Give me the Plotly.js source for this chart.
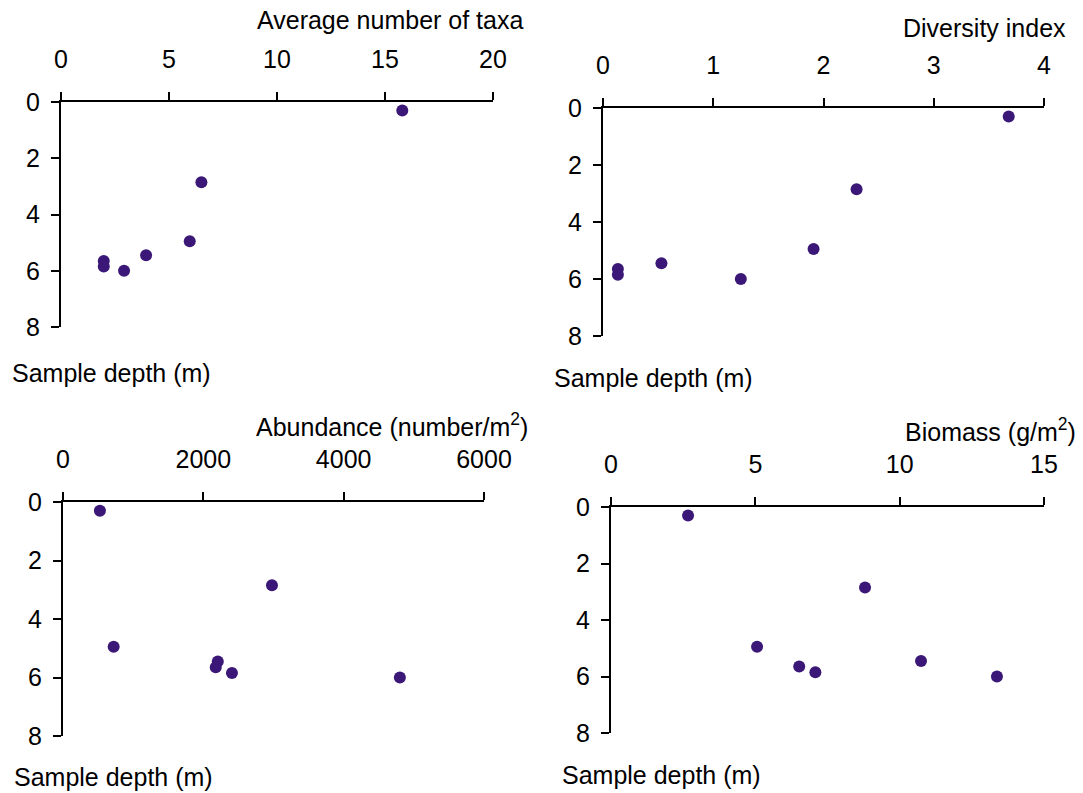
<!DOCTYPE html>
<html>
<head>
<meta charset="utf-8">
<script src="https://cdn.plot.ly/plotly-3.0.1.min.js"></script>
<style>html,body{margin:0;padding:0;background:#fff;}#chart{width:1083px;height:793px;}</style>
</head>
<body>
<div id="chart"></div>
<script>
// Sample depths (m), shared by all four panels
const depth = [0.3, 2.85, 4.95, 5.45, 5.65, 5.85, 6.0];
// Series values
const taxa = [15.8, 6.5, 5.96, 3.94, 1.98, 1.98, 2.92];
const diversity = [3.68, 2.30, 1.91, 0.53, 0.135, 0.135, 1.25];
const abundance = [526, 2978, 722, 2206, 2177, 2408, 4801];
const biomass = [2.67, 8.80, 5.06, 10.74, 6.52, 7.08, 13.37];

const xTitles = ['Average number of taxa', 'Diversity index', 'Abundance (number/m<sup>2</sup>)', 'Biomass (g/m<sup>2</sup>)'];
const yTitle = 'Sample depth (m)';
const xRanges = [[0, 20], [0, 4], [0, 6000], [0, 15]];
const xDtick = [5, 1, 2000, 5];
const yTicks = [0, 2, 4, 6, 8];

const W = 1083, H = 793;
const FONT = 'Liberation Sans, Arial, sans-serif';
const COLOR = '#3b1877';
// pixel boxes [x0, x1, yTop, yBottom]
const boxes = [[61, 493, 102, 327], [603, 1044, 108, 336], [63, 484, 502, 736], [611, 1044, 507, 733]];
const xTitlePos = [[525, 20], [1068, 28], [530, 425], [1078, 430]];
const yTitlePos = [[10, 373], [552, 378], [12, 777], [560, 775]];

const series = [taxa, diversity, abundance, biomass];
const data = [];
const layout = {
  width: W, height: H,
  margin: {l: 0, r: 0, t: 0, b: 0},
  paper_bgcolor: '#fff', plot_bgcolor: 'rgba(0,0,0,0)',
  showlegend: false,
  font: {family: FONT, size: 25, color: '#000'},
  annotations: []
};
series.forEach((vals, i) => {
  const n = i === 0 ? '' : String(i + 1);
  data.push({
    type: 'scatter', mode: 'markers',
    x: vals, y: depth,
    xaxis: 'x' + n, yaxis: 'y' + n,
    marker: {color: COLOR, size: 12},
    cliponaxis: false
  });
  const b = boxes[i];
  layout['xaxis' + n] = {
    domain: [b[0] / W, b[1] / W],
    anchor: 'y' + n, side: 'top',
    range: xRanges[i], tick0: 0, dtick: xDtick[i],
    showgrid: false, zeroline: false,
    showline: true, linecolor: '#000', linewidth: 2,
    ticks: 'outside', ticklen: 8, tickwidth: 2, tickcolor: '#000',
    ticklabelstandoff: 14,
    tickfont: {family: FONT, size: 25, color: '#000'}
  };
  layout['yaxis' + n] = {
    domain: [1 - b[3] / H, 1 - b[2] / H],
    anchor: 'x' + n,
    range: [8, 0], tickvals: yTicks,
    showgrid: false, zeroline: false,
    showline: true, linecolor: '#000', linewidth: 2,
    ticks: 'outside', ticklen: 8, tickwidth: 2, tickcolor: '#000',
    ticklabelstandoff: 6,
    tickfont: {family: FONT, size: 25, color: '#000'}
  };
  layout.annotations.push({
    text: xTitles[i], xref: 'paper', yref: 'paper',
    x: xTitlePos[i][0] / W, y: 1 - xTitlePos[i][1] / H,
    xanchor: 'right', yanchor: 'middle', showarrow: false,
    font: {family: FONT, size: 25, color: '#000'}
  });
  layout.annotations.push({
    text: yTitle, xref: 'paper', yref: 'paper',
    x: yTitlePos[i][0] / W, y: 1 - yTitlePos[i][1] / H,
    xanchor: 'left', yanchor: 'middle', showarrow: false,
    font: {family: FONT, size: 25, color: '#000'}
  });
});
Plotly.newPlot('chart', data, layout, {displayModeBar: false, staticPlot: true});
</script>
</body>
</html>
